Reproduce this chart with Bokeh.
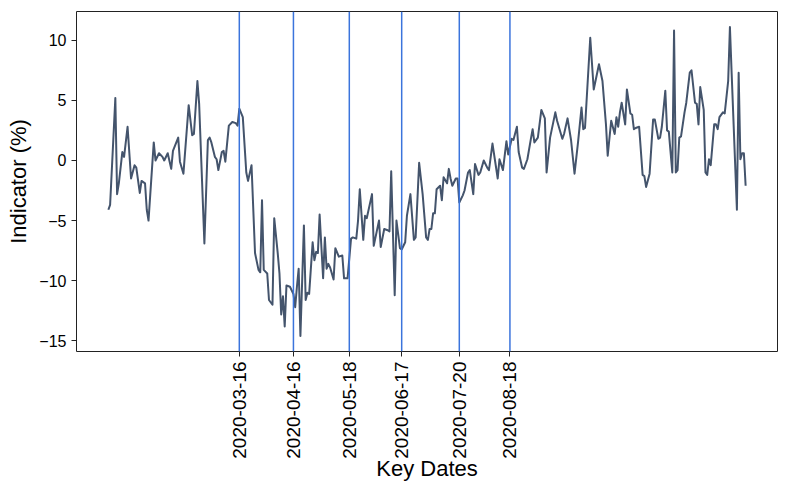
import pandas as pd
from bokeh.plotting import figure
from bokeh.models import Range1d, FixedTicker, Span
from bokeh.embed import file_html
from bokeh.resources import INLINE

# ---- data ----
start_date = "2020-01-01"
day_offsets = [
    0, 1, 4, 5, 6, 8, 9, 11, 13, 15, 16, 18, 19, 21, 22, 23, 26, 27, 29, 31,
    32, 34, 36, 37, 40, 41, 43, 46, 48, 49, 51, 52, 55, 57, 58, 59, 61, 62, 63, 65,
    66, 67, 69, 71, 73, 74, 75, 77, 79, 80, 82, 84, 86, 87, 88, 89, 91, 92, 94, 95,
    97, 98, 99, 100, 101, 102, 104, 106, 107, 108, 109, 110, 112, 113, 114, 115, 117, 118, 119, 120,
    121, 123, 124, 125, 126, 127, 129, 130, 132, 134, 135, 137, 139, 140, 142, 143, 144, 146, 147, 148,
    151, 152, 155, 156, 158, 160, 161, 162, 164, 165, 167, 168, 170, 171, 173, 175, 176, 178, 180, 182,
    183, 184, 185, 186, 187, 188, 190, 191, 192, 194, 195, 196, 197, 199, 200, 201, 203, 204, 206, 207,
    209, 210, 212, 213, 215, 217, 218, 220, 223, 224, 226, 227, 228, 229, 231, 232, 234, 235, 237, 238,
    240, 242, 243, 244, 246, 248, 250, 251, 253, 256, 257, 260, 261, 263, 265, 267, 269, 271, 272, 273,
    276, 278, 281, 283, 285, 286, 288, 290, 291, 292, 293, 294, 296, 297, 299, 300, 301, 302, 304, 306,
    307, 308, 310, 312, 313, 315, 316, 317, 319, 320, 321, 323, 324, 325, 326, 327, 328, 330, 331, 333,
    334, 336, 337, 338, 339, 341, 342, 343, 344, 345, 347, 348, 349, 350, 352, 353, 355, 356, 357, 360,
    361, 362, 363, 364, 365,
]
indicator = [
    -4.1, -3.7, 5.2, -2.8, -1.9, 0.7, 0.3, 2.8, -1.5, -0.4, -0.6, -2.7, -1.7, -1.9, -4.1, -5.0, 1.5, 0.0, 0.6, 0.3,
    0.0, 0.6, -0.7, 0.8, 1.9, -0.1, -1.1, 4.6, 2.1, 2.2, 6.6, 4.7, -6.9, 1.7, 1.9, 1.5, 0.3, 0.1, -0.8, 0.7,
    0.8, -0.1, 2.9, 3.2, 3.1, 2.9, 4.3, 3.6, -1.0, -1.7, -0.4, -7.7, -9.1, -9.3, -3.3, -9.1, -9.4, -11.6, -12.0, -4.8,
    -7.7, -9.4, -12.8, -11.3, -13.8, -10.4, -10.5, -11.1, -12.2, -10.5, -9.0, -14.6, -5.4, -11.6, -11.0, -11.1, -6.8, -8.3, -7.6, -7.7,
    -4.5, -9.8, -6.4, -9.0, -8.6, -8.9, -9.9, -7.3, -8.0, -7.9, -9.8, -9.8, -6.5, -6.4, -6.5, -5.0, -2.4, -6.6, -4.6, -4.8,
    -2.8, -7.1, -5.0, -7.2, -5.7, -5.8, -5.9, -0.9, -11.2, -5.0, -7.3, -7.4, -6.8, -4.6, -2.8, -6.6, -6.4, -0.2, -2.8, -6.4,
    -6.6, -5.7, -5.7, -4.4, -4.4, -2.4, -2.1, -3.3, -1.4, -1.9, -0.7, -1.5, -2.1, -1.5, -1.5, -3.5, -2.9, -2.5, -1.0, -0.8,
    -2.8, -0.3, -1.2, -1.0, 0.0, -0.6, -0.8, 1.4, -1.5, 0.1, -0.8, 0.4, 1.6, 0.5, 1.8, 1.7, 2.8, 0.7, -0.6, -0.7,
    0.1, 1.8, 2.6, 1.5, 1.9, 4.2, 3.5, -1.0, 1.9, 4.0, 3.3, 1.8, 2.2, 3.5, 1.7, -1.1, 1.5, 4.4, 2.6, 2.7,
    10.2, 5.9, 8.0, 6.6, 3.0, 0.4, 3.3, 2.2, 3.6, 2.8, 4.0, 4.8, 3.0, 5.9, 3.9, 3.8, 2.6, 2.7, 2.8, -1.2,
    -1.3, -2.2, -1.1, 3.4, 3.4, 1.8, 1.9, 2.8, 5.8, 2.5, 2.4, -1.0, 10.8, -1.0, -0.8, 1.9, 2.0, 4.0, 4.8, 7.3,
    7.5, 4.8, 4.7, 3.0, 6.1, 4.2, -1.0, -1.2, 0.1, -0.4, 3.0, 3.0, 2.6, 3.6, 4.0, 3.9, 6.6, 11.1, 7.2, -4.1,
    7.3, 0.1, 0.6, 0.6, -2.1,
]
key_dates = ["2020-03-16", "2020-04-16", "2020-05-18", "2020-06-17", "2020-07-20", "2020-08-18"]
y_ticks = [-15, -10, -5, 0, 5, 10]

# ---- build ----
dates = pd.Timestamp(start_date) + pd.to_timedelta(day_offsets, unit="D")
key_ts = pd.to_datetime(key_dates)

def to_ms(ts):
    return ts.value / 1e6

x_ms = [to_ms(d) for d in dates]
key_ms = [to_ms(d) for d in key_ts]

xpad = (max(x_ms) - min(x_ms)) * 0.05
ypad = (max(indicator) - min(indicator)) * 0.05

FONT = "Liberation Sans"

p = figure(width=787, height=497, x_axis_type="datetime",
           output_backend="svg", toolbar_location=None,
           x_range=Range1d(min(x_ms) - xpad, max(x_ms) + xpad),
           y_range=Range1d(min(indicator) - ypad, max(indicator) + ypad),
           min_border_left=76, min_border_right=10, min_border_top=11, min_border_bottom=146)

p.background_fill_color = "white"
p.border_fill_color = "white"
p.outline_line_color = "#222222"
p.outline_line_width = 1
p.xgrid.visible = False
p.ygrid.visible = False

for d in key_ms:
    p.add_layout(Span(location=d, dimension="height", line_color="#3b74dc", line_width=1.5))

p.line(dates, indicator, line_color="#44546c", line_width=2.0, line_join="round")

# x axis
p.xaxis.ticker = FixedTicker(ticks=key_ms)
p.xaxis.major_label_overrides = {k: lab for k, lab in zip(key_ms, key_dates)}
p.xaxis.major_label_orientation = 1.5707963267948966
p.xaxis.axis_label = "Key Dates"
# y axis
p.yaxis.ticker = FixedTicker(ticks=y_ticks)
p.yaxis.major_label_overrides = {t: (str(t).replace("-", "\u2212")) for t in y_ticks}
p.yaxis.axis_label = "Indicator (%)"

for ax in (p.xaxis, p.yaxis):
    ax.axis_line_color = None
    ax.minor_tick_line_color = None
    ax.major_tick_out = 5
    ax.major_tick_in = 0
    ax.major_tick_line_color = "#222222"
    ax.major_label_text_font = FONT
    ax.major_label_text_color = "black"
    ax.axis_label_text_font = FONT
    ax.axis_label_text_font_style = "normal"
    ax.axis_label_text_color = "black"
    ax.axis_label_text_font_size = "22px"
    ax.major_label_standoff = 5

p.xaxis.major_label_text_font_size = "19px"
p.yaxis.major_label_text_font_size = "16px"
p.xaxis.axis_label_standoff = -6
p.yaxis.axis_label_standoff = 5

open("out.html", "w").write(file_html(p, INLINE))
